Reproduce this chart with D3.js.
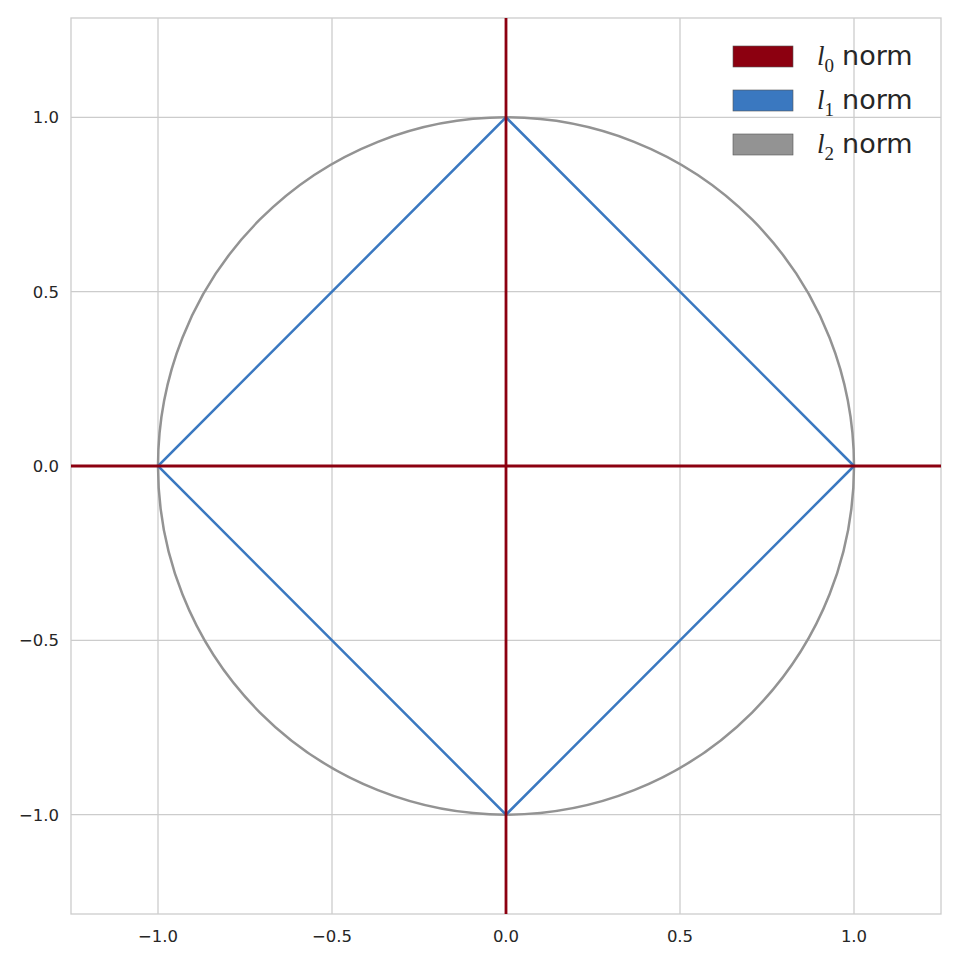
<!DOCTYPE html>
<html><head><meta charset="utf-8">
<script src="https://cdn.jsdelivr.net/npm/d3@7"></script>
<style>body{margin:0;background:#fff}</style>
</head><body>
<script>
const xTicks = [-1.0, -0.5, 0.0, 0.5, 1.0];
const yTicks = [-1.0, -0.5, 0.0, 0.5, 1.0];
const xDomain = [-1.25, 1.25];
const yDomain = [-1.285, 1.285];
const l1Points = [[1,0],[0,1],[-1,0],[0,-1],[1,0]];
const l0H = [[-1.25,0],[1.25,0]];
const l0V = [[0,-1.285],[0,1.285]];
const l2Radius = 1;
const legendItems = [
  {sub:"0", color:"#8c0010"},
  {sub:"1", color:"#3a78c0"},
  {sub:"2", color:"#939393"}
];

const W=960,H=960, L=71, R=941, T=18, B=914;
const svg=d3.select("body").append("svg").attr("width",W).attr("height",H);
const x=d3.scaleLinear().domain(xDomain).range([L,R]);
const y=d3.scaleLinear().domain(yDomain).range([B,T]);

const g=svg.append("g");
g.selectAll(".gx").data(xTicks).enter().append("line")
 .attr("x1",d=>x(d)).attr("x2",d=>x(d)).attr("y1",T).attr("y2",B)
 .attr("stroke","#cccccc").attr("stroke-width",1.3);
g.selectAll(".gy").data(yTicks).enter().append("line")
 .attr("y1",d=>y(d)).attr("y2",d=>y(d)).attr("x1",L).attr("x2",R)
 .attr("stroke","#cccccc").attr("stroke-width",1.3);
g.append("rect").attr("x",L).attr("y",T).attr("width",R-L).attr("height",B-T)
 .attr("fill","none").attr("stroke","#cccccc").attr("stroke-width",1.3);

const fmt=d=>d3.format(".1f")(d).replace("-","\u2212");
g.selectAll(".tx").data(xTicks).enter().append("text")
 .attr("x",d=>x(d)).attr("y",B+28).attr("text-anchor","middle")
 .attr("font-family","DejaVu Sans").attr("font-size",16.5).attr("fill","#262626").text(fmt);
g.selectAll(".ty").data(yTicks).enter().append("text")
 .attr("x",L-12).attr("y",d=>y(d)+6).attr("text-anchor","end")
 .attr("font-family","DejaVu Sans").attr("font-size",16.5).attr("fill","#262626").text(fmt);

const line=d3.line().x(d=>x(d[0])).y(d=>y(d[1]));
g.append("ellipse").attr("cx",x(0)).attr("cy",y(0))
 .attr("rx",x(l2Radius)-x(0)).attr("ry",y(0)-y(l2Radius))
 .attr("fill","none").attr("stroke",legendItems[2].color).attr("stroke-width",2.5);
g.append("path").attr("d",line(l1Points)).attr("fill","none")
 .attr("stroke",legendItems[1].color).attr("stroke-width",2.5);
[l0H,l0V].forEach(p=>g.append("path").attr("d",line(p)).attr("fill","none")
 .attr("stroke",legendItems[0].color).attr("stroke-width",2.8));

const lg=svg.append("g");
legendItems.forEach((d,i)=>{
  const yy=46+i*44;
  lg.append("rect").attr("x",733).attr("y",yy).attr("width",60).attr("height",21)
    .attr("fill",d.color).attr("stroke","#555").attr("stroke-width",0.6);
  const t=lg.append("text").attr("x",817).attr("y",yy+19)
    .attr("font-size",27).attr("fill","#262626");
  t.append("tspan").attr("font-family","Liberation Serif").attr("font-style","italic").text("l");
  t.append("tspan").attr("font-family","Liberation Serif").attr("font-size",19).attr("dy",7).text(d.sub);
  t.append("tspan").attr("font-family","DejaVu Sans").attr("dy",-7).attr("dx",8).text("norm");
});
</script>
</body></html>
